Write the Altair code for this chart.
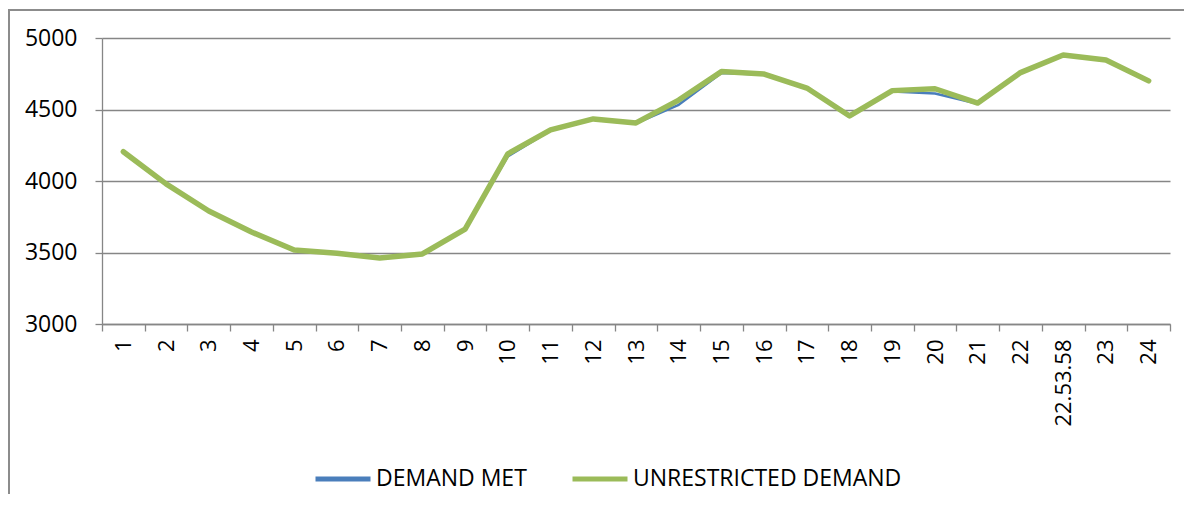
import altair as alt
import pandas as pd

categories = [str(i) for i in range(1, 23)] + ["22.53.58", "23", "24"]
demand_met = [4205, 3980, 3790, 3643, 3517, 3495, 3462, 3490, 3664, 4172, 4353, 4432, 4404,
              4533, 4756, 4745, 4650, 4455, 4625, 4612, 4540, 4755, 4881, 4846, 4700]
unrestricted = [4205, 3980, 3790, 3643, 3517, 3495, 3462, 3490, 3664, 4190, 4357, 4434, 4406,
                4566, 4765, 4748, 4650, 4455, 4632, 4645, 4545, 4758, 4881, 4846, 4700]
series_names = ["DEMAND MET", "UNRESTRICTED DEMAND"]
series_colors = ["#4A7EBB", "#9BBB59"]
series_widths = [2.5, 5.5]
y_ticks = [3000, 3500, 4000, 4500, 5000]

rows = []
for name, vals in zip(series_names, [demand_met, unrestricted]):
    for c, v in zip(categories, vals):
        rows.append({"hour": c, "value": v, "series": name})
df = pd.DataFrame(rows)

W, H = 1068, 286
FONT = "Open Sans"

x_enc = alt.X("hour:N", sort=categories, title=None,
              scale=alt.Scale(paddingInner=0, paddingOuter=0),
              axis=alt.Axis(labelAngle=-90, tickBand="extent", grid=False, tickSize=7,
                            labelPadding=8, labelFont=FONT, labelFontSize=22,
                            labelColor="#000000", domainColor="#868686", tickColor="#868686",
                            domainWidth=1.3, tickWidth=1.3, labelOverlap=False))
y_enc = alt.Y("value:Q", title=None, scale=alt.Scale(domain=[3000, 5000], nice=False, zero=False),
              axis=alt.Axis(values=y_ticks, format="d", tickSize=7, labelPadding=18, labelFont=FONT,
                            labelFontSize=23, labelColor="#000000", domainColor="#868686",
                            tickColor="#868686", domainWidth=1.3, tickWidth=1.3,
                            gridColor="#868686", gridWidth=1.3))
color_enc = alt.Color("series:N", sort=series_names,
                      scale=alt.Scale(domain=series_names, range=series_colors),
                      legend=alt.Legend(title=None, orient="none", legendX=211, legendY=411,
                                        direction="horizontal", symbolType="stroke",
                                        symbolSize=3025, symbolStrokeWidth=5,
                                        labelFont=FONT, labelFontSize=23, labelColor="#000000",
                                        labelOffset=3, columnPadding=35, padding=0,
                                        labelLimit=400))

series_layers = []
for name, sw in zip(series_names, series_widths):
    series_layers.append(
        alt.Chart(df).transform_filter(alt.datum.series == name)
        .mark_line(strokeCap="round", strokeJoin="round", strokeWidth=sw)
        .encode(x=x_enc, y=y_enc, color=color_enc)
    )

frame_left = alt.Chart(df).mark_rule(color="#8C8C8C", strokeWidth=2).encode(
    x=alt.value(-93), y=alt.value(-28), y2=alt.value(H + 170)
)
frame_top = alt.Chart(df).mark_rule(color="#8C8C8C", strokeWidth=1.5).encode(
    x=alt.value(-94), x2=alt.value(W + 14), y=alt.value(-28)
)

chart = alt.layer(frame_left, frame_top, *series_layers).properties(
    width=W, height=H,
    autosize=alt.AutoSizeParams(type="none"),
    padding={"left": 94, "top": 30, "right": 14, "bottom": 170},
    background="#ffffff",
).configure_view(stroke=None)

chart.save("out.html", embed_options={"renderer": "svg", "actions": False})
